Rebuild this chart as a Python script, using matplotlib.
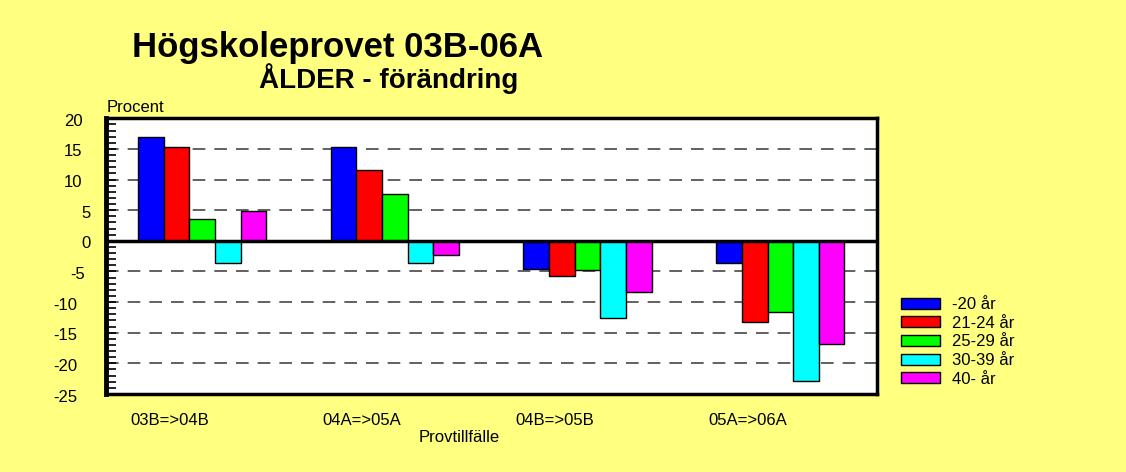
import matplotlib
matplotlib.use("Agg")
import matplotlib.pyplot as plt
import matplotlib.transforms as mtransforms
import numpy as np
from matplotlib.ticker import MultipleLocator

plt.rcParams['font.family'] = ['Liberation Sans', 'DejaVu Sans']

categories = ["03B=>04B", "04A=>05A", "04B=>05B", "05A=>06A"]
series_names = ["-20 år", "21-24 år", "25-29 år", "30-39 år", "40- år"]
series_colors = ["#0000FF", "#FF0000", "#00FF00", "#00FFFF", "#FF00FF"]
v_20 = [17.0, 15.3, -4.6, -3.6]
v_21_24 = [15.3, 11.5, -5.8, -13.2]
v_25_29 = [3.6, 7.6, -4.8, -11.6]
v_30_39 = [-3.6, -3.6, -12.6, -22.8]
v_40 = [4.8, -2.3, -8.3, -16.9]
series_values = [v_20, v_21_24, v_25_29, v_30_39, v_40]
yticks = [20, 15, 10, 5, 0, -5, -10, -15, -20, -25]

W, H = 1126, 472
fig = plt.figure(figsize=(W / 100, H / 100), dpi=100, facecolor="#FFFF80")
ax = fig.add_axes([105.7 / W, 1 - 394 / H, (876.7 - 105.7) / W, (394 - 118.3) / H])
ax.set_facecolor("white")

x = np.arange(len(categories))
w = 0.133
handles = []
for j, (vals, col, name) in enumerate(zip(series_values, series_colors, series_names)):
    b = ax.bar(x + (j - 2) * w, vals, width=w, color=col, edgecolor="black",
               linewidth=1.0, label=name, zorder=3)
    handles.append(b)

ax.set_xlim(-0.5, len(categories) - 0.5)
ax.set_ylim(-25, 20)

for g in yticks:
    if g not in (0, 20, -25):
        ax.axhline(g, color="#555555", lw=1.3, ls=(0, (7, 5)), zorder=1)
ax.axhline(0, color="black", lw=2.5, zorder=4)

for s in ax.spines.values():
    s.set_linewidth(2.5)
    s.set_color("black")
ax.spines['left'].set_linewidth(3.5)

ax.set_yticks(yticks)
ax.set_yticklabels([])
ax.yaxis.set_minor_locator(MultipleLocator(1))
ax.tick_params(axis='y', which='both', direction='in', length=7, width=1.2)

# y tick labels, placed like the original (left-aligned at an offset per label)
trans = mtransforms.blended_transform_factory(fig.transFigure, ax.transData)
trans = mtransforms.offset_copy(trans, fig=fig, x=0, y=-3, units='dots')
for t in yticks:
    s = str(t)
    est = 10.8 * s.count('-') + 17.3 * sum(c.isdigit() for c in s)
    ax.text((98.3 - est) / W, t, s, transform=trans, fontsize=12,
            ha='left', va='center', clip_on=False)

ax.set_xticks(x - 0.17)
ax.set_xticklabels(categories)
ax.tick_params(axis='x', length=0, labelsize=12, pad=14)

fig.text(338 / W, 1 - 57 / H, "Högskoleprovet 03B-06A", fontsize=25,
         fontweight='bold', ha='center', va='baseline')
fig.text(389 / W, 1 - 88.3 / H, "ÅLDER - förändring", fontsize=20,
         fontweight='bold', ha='center', va='baseline')
fig.text(107 / W, 1 - 111.7 / H, "Procent", fontsize=12, ha='left', va='baseline')
fig.text(459 / W, 1 - 442 / H, "Provtillfälle", fontsize=12, ha='center', va='baseline')

leg = ax.legend(handles=handles, loc='upper left',
                bbox_to_anchor=(900.7 / W, 1 - 297 / H),
                bbox_transform=fig.transFigure, frameon=False, fontsize=12,
                handlelength=2.34, handleheight=0.66, handletextpad=0.76,
                labelspacing=0.22, borderpad=0, borderaxespad=0)

fig.savefig("out.png", dpi=100, facecolor=fig.get_facecolor())
